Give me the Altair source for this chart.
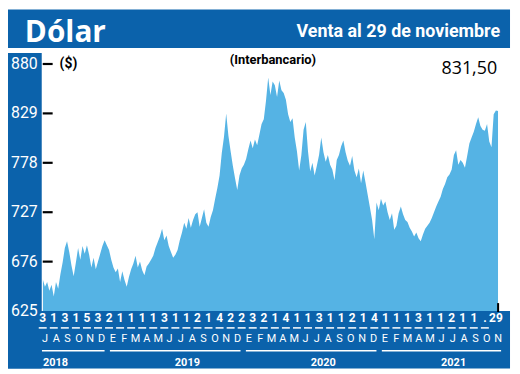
import altair as alt
import pandas as pd

# ---- data ----
usd_2018 = [658, 650, 655, 646, 652,  640, 655, 648, 663, 675,  690, 697, 686, 672, 661,
            675, 690, 678, 692, 684,  693, 683, 670, 680, 668,  676, 684, 692, 698, 693]
usd_2019 = [688, 678, 670, 665, 669,  655, 666, 657, 650, 660,  668, 674, 682, 670, 676,
            667, 662, 671, 674, 678,  682, 690, 696, 702, 710,  698, 703, 692, 686, 680,
            683, 688, 698, 706, 716,  710, 721, 711, 719, 725,  727, 712, 721, 730, 716,
            712, 722, 729, 741, 752,  765, 788, 805, 829, 806,  790, 775, 762, 750, 765]
usd_2020 = [772, 776, 782, 792, 801,  793, 802, 796, 807, 818,  823, 842, 866, 848, 862,
            858, 846, 863, 853, 850,  843, 828, 820, 824, 804,  790, 770, 786, 812, 820,
            790, 769, 778, 765, 775,  786, 804, 789, 779, 786,  776, 771, 760, 781, 786,
            795, 801, 789, 780, 775,  785, 770, 763, 772, 757,  770, 758, 745, 732, 719]
usd_2021 = [699, 737, 729, 741, 734,  738, 727, 719, 726, 709,  713, 726, 733, 725, 719,
            717, 711, 707, 702, 706,  700, 697, 704, 710, 713,  716, 721, 727, 733, 738,
            743, 751, 756, 763, 766,  771, 786, 791, 776, 781,  778, 773, 785, 798, 804,
            810, 818, 825, 816, 812,  811, 818, 800, 794, 828, 832, 831.5]

y_ticks = [625, 676, 727, 778, 829, 880]
day_labels = ["3", "1", "3", "1", "5", "3",
              "2", "1", "1", "1", "1", "3", "1", "1", "2", "1", "4", "2",
              "2", "3", "2", "1", "4", "1", "1", "3", "1", "1", "2", "1",
              "4", "1", "1", "1", "3", "1", "1", "2", "1", "1", ".", "29"]
month_letters = ["J", "A", "S", "O", "N", "D",
                 "E", "F", "M", "A", "M", "J", "J", "A", "S", "O", "N", "D",
                 "E", "F", "M", "A", "M", "J", "J", "A", "S", "O", "N", "D",
                 "E", "F", "M", "A", "M", "J", "J", "A", "S", "O", "N"]
years = ["2018", "2019", "2020", "2021"]
months_per_year = [6, 12, 12, 11]
title_text = "Dólar"
subtitle_text = "Venta al 29 de noviembre"
last_value_text = "831,50"

# ---- styling ----
DARK = "#0b62ab"
LIGHT = "#55b3e4"
NARROW = "Roboto, sans-serif"
W, H = 459, 249
XMAX = 41.2

values = usd_2018 + usd_2019 + usd_2020 + usd_2021
series = pd.DataFrame({"t": [i * 0.2 for i in range(len(values))], "v": values})

xs = alt.Scale(domain=[0, XMAX], nice=False, zero=False)
ys = alt.Scale(domain=[625, 880], nice=False, zero=False)

one = pd.DataFrame({"a": [0]})


def rect(x, x2, y, y2, color):
    return alt.Chart(one).mark_rect(color=color).encode(
        x=alt.value(x), x2=alt.value(x2), y=alt.value(y), y2=alt.value(y2))


def label(text, x, y, size, color="black", align="left", weight="normal", font=NARROW):
    return alt.Chart(one).mark_text(
        text=text, align=align, baseline="alphabetic", fontSize=size,
        fontWeight=weight, font=font, color=color
    ).encode(x=alt.value(x), y=alt.value(y))


bg = [
    rect(-35, 471, -55, -16, DARK),     # title bar
    rect(-35, -1, -11, 307, DARK),      # left column
    rect(-35, 471, 249, 307, DARK),     # bottom band
]

area = alt.Chart(series).mark_area(color=LIGHT, clip=True).encode(
    x=alt.X("t:Q", scale=xs, axis=None),
    y=alt.Y("v:Q", scale=ys, axis=None),
    y2=alt.datum(625),
)

ytick_df = pd.DataFrame({"v": y_ticks})
ytick_rules = alt.Chart(ytick_df[ytick_df.v > 625]).mark_rule(color="black", strokeWidth=2.2).encode(
    x=alt.value(0), x2=alt.value(10), y=alt.Y("v:Q", scale=ys, axis=None))
ytick_labels = alt.Chart(ytick_df).mark_text(
    align="right", baseline="middle", fontSize=16, font="Roboto", color="white"
).encode(x=alt.value(-5), y=alt.Y("v:Q", scale=ys, axis=None), text=alt.Text("v:Q", format="d"))

day_df = pd.DataFrame({"t": list(range(len(day_labels))), "lab": day_labels})
day_df["t0"] = day_df.t - 0.36
day_df["t1"] = day_df.t + 0.36
day_text = alt.Chart(day_df).mark_text(
    align="center", baseline="alphabetic", fontSize=12, fontWeight="bold", font=NARROW, color="white"
).encode(x=alt.X("t:Q", scale=xs, axis=None), y=alt.value(260), text="lab:N")
day_dash = alt.Chart(day_df.iloc[:-1]).mark_rule(color="white", strokeWidth=1.5).encode(
    x=alt.X("t0:Q", scale=xs, axis=None), x2="t1:Q", y=alt.value(266))

step = (XMAX - 0.2) / (len(month_letters) - 1)
mon_df = pd.DataFrame({"t": [0.2 + i * step for i in range(len(month_letters))], "lab": month_letters})
mon_text = alt.Chart(mon_df).mark_text(
    align="center", baseline="alphabetic", fontSize=11, font=NARROW, color="white"
).encode(x=alt.X("t:Q", scale=xs, axis=None), y=alt.value(280), text="lab:N")

rows = []
start = 0
for yr, n in zip(years, months_per_year):
    a = mon_df.t.iloc[start] - 0.27
    b = mon_df.t.iloc[start + n - 1] + 0.27
    rows.append({"yr": yr, "a": a, "b": b,
                 "c": a + 0.1 if yr == years[0] else (a + b) / 2 + 1.1,
                 "al": "left" if yr == years[0] else "center"})
    start += n
yr_df = pd.DataFrame(rows)
yr_rule = alt.Chart(yr_df).mark_rule(color="white", strokeWidth=1.5).encode(
    x=alt.X("a:Q", scale=xs, axis=None), x2="b:Q", y=alt.value(289))
yr_left = alt.Chart(yr_df[yr_df.al == "left"]).mark_text(
    align="left", baseline="alphabetic", fontSize=11, fontWeight="bold", font=NARROW, color="white"
).encode(x=alt.X("c:Q", scale=xs, axis=None), y=alt.value(304), text="yr:N")
yr_center = alt.Chart(yr_df[yr_df.al == "center"]).mark_text(
    align="center", baseline="alphabetic", fontSize=11, fontWeight="bold", font=NARROW, color="white"
).encode(x=alt.X("c:Q", scale=xs, axis=None), y=alt.value(304), text="yr:N")

end_tick = alt.Chart(pd.DataFrame({"t": [XMAX]})).mark_rule(color="black", strokeWidth=2).encode(
    x=alt.X("t:Q", scale=xs, axis=None), y=alt.value(241), y2=alt.value(250))

texts = [
    label(title_text, -18, -22, 30, color="white", weight="bold", font="Open Sans"),
    label(subtitle_text, 461, -27, 18, color="white", align="right", weight="bold"),
    label("($)", 17, 4, 14, weight="bold"),
    label("(Interbancario)", 232, 0, 13, align="center", weight="bold"),
    label(last_value_text, 458, 10, 18, align="right", font="Open Sans"),
]

chart = alt.layer(
    *bg, area, ytick_rules, ytick_labels, day_text, day_dash, mon_text,
    yr_rule, yr_left, yr_center, end_tick, *texts
).properties(
    width=W, height=H,
    padding={"left": 35, "top": 55, "right": 14, "bottom": 58},
    autosize=alt.AutoSizeParams(type="none"),
).configure_view(stroke=None)

chart.save("out.html", embed_options={"renderer": "svg", "actions": False})
